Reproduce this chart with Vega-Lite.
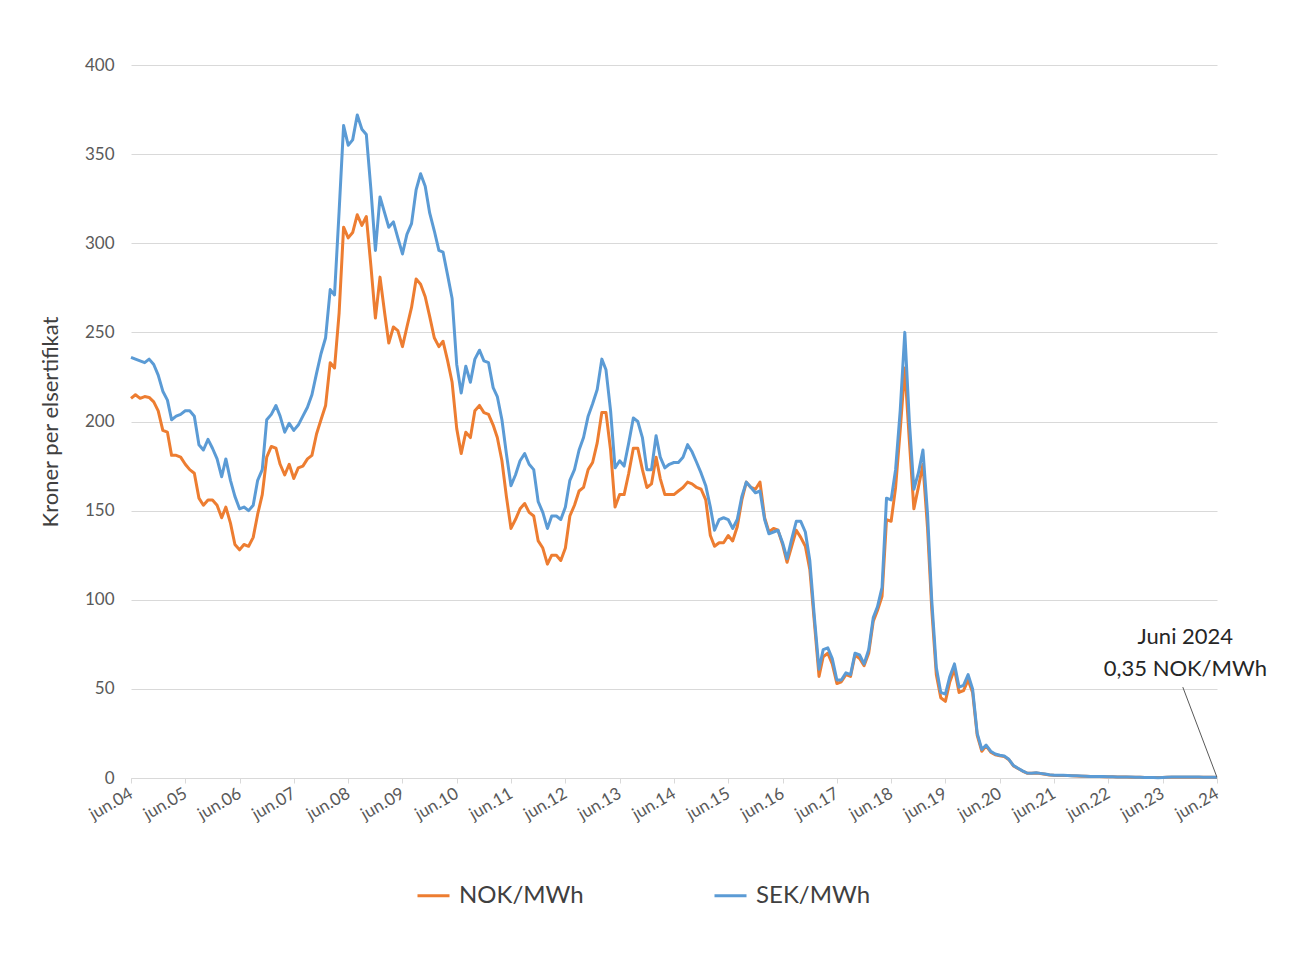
{
  "$schema": "https://vega.github.io/schema/vega-lite/v6.json",
  "width": 1086,
  "height": 713,
  "autosize": {"type": "none"},
  "padding": {"left": 131, "top": 65, "right": 92, "bottom": 180},
  "background": "white",
  "config": {
    "view": {"stroke": null},
    "font": "Lato",
    "axis": {"labelFont": "Lato", "titleFont": "Lato"},
    "legend": {"labelFont": "Lato"}
  },
  "datasets": {
    "prices": [
      {"d":"2004-06","NOK":213,"SEK":236},{"d":"2004-07","NOK":215,"SEK":235},{"d":"2004-08","NOK":213,"SEK":234},{"d":"2004-09","NOK":214,"SEK":233},{"d":"2004-10","NOK":213.5,"SEK":235},{"d":"2004-11","NOK":211,"SEK":232},{"d":"2004-12","NOK":206,"SEK":226},
      {"d":"2005-01","NOK":195,"SEK":217},{"d":"2005-02","NOK":194,"SEK":212},{"d":"2005-03","NOK":181,"SEK":201},{"d":"2005-04","NOK":181,"SEK":203},{"d":"2005-05","NOK":180,"SEK":204},{"d":"2005-06","NOK":176,"SEK":206},{"d":"2005-07","NOK":173,"SEK":206},{"d":"2005-08","NOK":171,"SEK":203},{"d":"2005-09","NOK":157,"SEK":187},{"d":"2005-10","NOK":153,"SEK":184},{"d":"2005-11","NOK":156,"SEK":190},{"d":"2005-12","NOK":156,"SEK":185},
      {"d":"2006-01","NOK":153,"SEK":179},{"d":"2006-02","NOK":146,"SEK":169},{"d":"2006-03","NOK":152,"SEK":179},{"d":"2006-04","NOK":143,"SEK":167},{"d":"2006-05","NOK":131,"SEK":158},{"d":"2006-06","NOK":128,"SEK":151},{"d":"2006-07","NOK":131,"SEK":152},{"d":"2006-08","NOK":130,"SEK":150},{"d":"2006-09","NOK":135,"SEK":153},{"d":"2006-10","NOK":148,"SEK":167},{"d":"2006-11","NOK":159,"SEK":173},{"d":"2006-12","NOK":180,"SEK":201},
      {"d":"2007-01","NOK":186,"SEK":204},{"d":"2007-02","NOK":185,"SEK":209},{"d":"2007-03","NOK":176,"SEK":203},{"d":"2007-04","NOK":170,"SEK":194},{"d":"2007-05","NOK":176,"SEK":199},{"d":"2007-06","NOK":168,"SEK":195},{"d":"2007-07","NOK":174,"SEK":198},{"d":"2007-08","NOK":175,"SEK":203},{"d":"2007-09","NOK":179,"SEK":208},{"d":"2007-10","NOK":181,"SEK":215},{"d":"2007-11","NOK":193,"SEK":227},{"d":"2007-12","NOK":201,"SEK":238},
      {"d":"2008-01","NOK":209,"SEK":247},{"d":"2008-02","NOK":233,"SEK":274},{"d":"2008-03","NOK":230,"SEK":271},{"d":"2008-04","NOK":261,"SEK":318},{"d":"2008-05","NOK":309,"SEK":366},{"d":"2008-06","NOK":303,"SEK":355},{"d":"2008-07","NOK":306,"SEK":358},{"d":"2008-08","NOK":316,"SEK":372},{"d":"2008-09","NOK":310,"SEK":364},{"d":"2008-10","NOK":315,"SEK":361},{"d":"2008-11","NOK":287,"SEK":330},{"d":"2008-12","NOK":258,"SEK":296},
      {"d":"2009-01","NOK":281,"SEK":326},{"d":"2009-02","NOK":261,"SEK":317},{"d":"2009-03","NOK":244,"SEK":309},{"d":"2009-04","NOK":253,"SEK":312},{"d":"2009-05","NOK":251,"SEK":303},{"d":"2009-06","NOK":242,"SEK":294},{"d":"2009-07","NOK":253,"SEK":305},{"d":"2009-08","NOK":264,"SEK":311},{"d":"2009-09","NOK":280,"SEK":330},{"d":"2009-10","NOK":277,"SEK":339},{"d":"2009-11","NOK":270,"SEK":332},{"d":"2009-12","NOK":259,"SEK":317},
      {"d":"2010-01","NOK":247,"SEK":307},{"d":"2010-02","NOK":242,"SEK":296},{"d":"2010-03","NOK":245,"SEK":295},{"d":"2010-04","NOK":234,"SEK":282},{"d":"2010-05","NOK":222,"SEK":269},{"d":"2010-06","NOK":196,"SEK":232},{"d":"2010-07","NOK":182,"SEK":216},{"d":"2010-08","NOK":194,"SEK":231},{"d":"2010-09","NOK":191,"SEK":222},{"d":"2010-10","NOK":206,"SEK":235},{"d":"2010-11","NOK":209,"SEK":240},{"d":"2010-12","NOK":205,"SEK":234},
      {"d":"2011-01","NOK":204,"SEK":233},{"d":"2011-02","NOK":198,"SEK":219},{"d":"2011-03","NOK":191,"SEK":214},{"d":"2011-04","NOK":178,"SEK":201},{"d":"2011-05","NOK":158,"SEK":182},{"d":"2011-06","NOK":140,"SEK":164},{"d":"2011-07","NOK":145,"SEK":170},{"d":"2011-08","NOK":151,"SEK":178},{"d":"2011-09","NOK":154,"SEK":182},{"d":"2011-10","NOK":149,"SEK":176},{"d":"2011-11","NOK":147,"SEK":173},{"d":"2011-12","NOK":133,"SEK":155},
      {"d":"2012-01","NOK":129,"SEK":149},{"d":"2012-02","NOK":120,"SEK":140},{"d":"2012-03","NOK":125,"SEK":147},{"d":"2012-04","NOK":125,"SEK":147},{"d":"2012-05","NOK":122,"SEK":145},{"d":"2012-06","NOK":129,"SEK":152},{"d":"2012-07","NOK":147,"SEK":167},{"d":"2012-08","NOK":153,"SEK":173},{"d":"2012-09","NOK":161,"SEK":184},{"d":"2012-10","NOK":163,"SEK":191},{"d":"2012-11","NOK":173,"SEK":203},{"d":"2012-12","NOK":177,"SEK":210},
      {"d":"2013-01","NOK":188,"SEK":218},{"d":"2013-02","NOK":205,"SEK":235},{"d":"2013-03","NOK":205,"SEK":229},{"d":"2013-04","NOK":184,"SEK":206},{"d":"2013-05","NOK":152,"SEK":174},{"d":"2013-06","NOK":159,"SEK":178},{"d":"2013-07","NOK":159,"SEK":175},{"d":"2013-08","NOK":171,"SEK":188},{"d":"2013-09","NOK":185,"SEK":202},{"d":"2013-10","NOK":185,"SEK":200},{"d":"2013-11","NOK":173,"SEK":191},{"d":"2013-12","NOK":163,"SEK":173},
      {"d":"2014-01","NOK":165,"SEK":173},{"d":"2014-02","NOK":180,"SEK":192},{"d":"2014-03","NOK":168,"SEK":180},{"d":"2014-04","NOK":159,"SEK":174},{"d":"2014-05","NOK":159,"SEK":176},{"d":"2014-06","NOK":159,"SEK":177},{"d":"2014-07","NOK":161,"SEK":177},{"d":"2014-08","NOK":163,"SEK":180},{"d":"2014-09","NOK":166,"SEK":187},{"d":"2014-10","NOK":165,"SEK":183},{"d":"2014-11","NOK":163,"SEK":177},{"d":"2014-12","NOK":162,"SEK":171},
      {"d":"2015-01","NOK":156,"SEK":164},{"d":"2015-02","NOK":136,"SEK":152},{"d":"2015-03","NOK":130,"SEK":139},{"d":"2015-04","NOK":132,"SEK":145},{"d":"2015-05","NOK":132,"SEK":146},{"d":"2015-06","NOK":136,"SEK":145},{"d":"2015-07","NOK":133,"SEK":140},{"d":"2015-08","NOK":141,"SEK":145},{"d":"2015-09","NOK":156,"SEK":158},{"d":"2015-10","NOK":166,"SEK":166},{"d":"2015-11","NOK":163,"SEK":163},{"d":"2015-12","NOK":162,"SEK":160},
      {"d":"2016-01","NOK":166,"SEK":161},{"d":"2016-02","NOK":146,"SEK":145},{"d":"2016-03","NOK":138,"SEK":137},{"d":"2016-04","NOK":140,"SEK":138},{"d":"2016-05","NOK":139,"SEK":139},{"d":"2016-06","NOK":131,"SEK":132},{"d":"2016-07","NOK":121,"SEK":123},{"d":"2016-08","NOK":130,"SEK":134},{"d":"2016-09","NOK":139,"SEK":144},{"d":"2016-10","NOK":135,"SEK":144},{"d":"2016-11","NOK":130,"SEK":138},{"d":"2016-12","NOK":117,"SEK":122},
      {"d":"2017-01","NOK":87,"SEK":90},{"d":"2017-02","NOK":57,"SEK":61},{"d":"2017-03","NOK":68,"SEK":72},{"d":"2017-04","NOK":70,"SEK":73},{"d":"2017-05","NOK":64,"SEK":67},{"d":"2017-06","NOK":53,"SEK":55},{"d":"2017-07","NOK":54,"SEK":55},{"d":"2017-08","NOK":58,"SEK":59},{"d":"2017-09","NOK":57,"SEK":58},{"d":"2017-10","NOK":69,"SEK":70},{"d":"2017-11","NOK":67,"SEK":69},{"d":"2017-12","NOK":63,"SEK":64},
      {"d":"2018-01","NOK":70,"SEK":72},{"d":"2018-02","NOK":88,"SEK":90},{"d":"2018-03","NOK":94,"SEK":96},{"d":"2018-04","NOK":102,"SEK":107},{"d":"2018-05","NOK":145,"SEK":157},{"d":"2018-06","NOK":144,"SEK":156},{"d":"2018-07","NOK":163,"SEK":173},{"d":"2018-08","NOK":195,"SEK":206},{"d":"2018-09","NOK":230,"SEK":250},{"d":"2018-10","NOK":190,"SEK":201},{"d":"2018-11","NOK":151,"SEK":162},{"d":"2018-12","NOK":163,"SEK":171},
      {"d":"2019-01","NOK":176,"SEK":184},{"d":"2019-02","NOK":140,"SEK":148},{"d":"2019-03","NOK":95,"SEK":100},{"d":"2019-04","NOK":58,"SEK":62},{"d":"2019-05","NOK":45,"SEK":48},{"d":"2019-06","NOK":43,"SEK":47},{"d":"2019-07","NOK":54,"SEK":57},{"d":"2019-08","NOK":61,"SEK":64},{"d":"2019-09","NOK":48,"SEK":51},{"d":"2019-10","NOK":49,"SEK":52},{"d":"2019-11","NOK":55,"SEK":58},{"d":"2019-12","NOK":48,"SEK":50},
      {"d":"2020-01","NOK":24,"SEK":25},{"d":"2020-02","NOK":15,"SEK":16},{"d":"2020-03","NOK":18,"SEK":18.5},{"d":"2020-04","NOK":14.5,"SEK":15},{"d":"2020-05","NOK":13,"SEK":13.5},{"d":"2020-06","NOK":12.5,"SEK":12.8},{"d":"2020-07","NOK":12,"SEK":12.3},{"d":"2020-08","NOK":10.3,"SEK":10.5},{"d":"2020-09","NOK":6.8,"SEK":7},{"d":"2020-10","NOK":5.3,"SEK":5.5},{"d":"2020-11","NOK":3.9,"SEK":4},{"d":"2020-12","NOK":2.7,"SEK":2.8},
      {"d":"2021-01","NOK":2.6,"SEK":2.7},{"d":"2021-02","NOK":2.8,"SEK":2.9},{"d":"2021-03","NOK":2.5,"SEK":2.6},{"d":"2021-04","NOK":2.1,"SEK":2.2},{"d":"2021-05","NOK":1.7,"SEK":1.8},{"d":"2021-06","NOK":1.5,"SEK":1.6},{"d":"2021-07","NOK":1.45,"SEK":1.5},{"d":"2021-08","NOK":1.45,"SEK":1.5},{"d":"2021-09","NOK":1.35,"SEK":1.4},{"d":"2021-10","NOK":1.25,"SEK":1.3},{"d":"2021-11","NOK":1.15,"SEK":1.2},{"d":"2021-12","NOK":1.05,"SEK":1.1},
      {"d":"2022-01","NOK":0.95,"SEK":1.0},{"d":"2022-02","NOK":0.9,"SEK":0.9},{"d":"2022-03","NOK":0.85,"SEK":0.9},{"d":"2022-04","NOK":0.8,"SEK":0.8},{"d":"2022-05","NOK":0.75,"SEK":0.8},{"d":"2022-06","NOK":0.7,"SEK":0.7},{"d":"2022-07","NOK":0.65,"SEK":0.7},{"d":"2022-08","NOK":0.6,"SEK":0.6},{"d":"2022-09","NOK":0.55,"SEK":0.6},{"d":"2022-10","NOK":0.5,"SEK":0.5},{"d":"2022-11","NOK":0.45,"SEK":0.5},{"d":"2022-12","NOK":0.4,"SEK":0.4},
      {"d":"2023-01","NOK":0.4,"SEK":0.4},{"d":"2023-02","NOK":0.35,"SEK":0.3},{"d":"2023-03","NOK":0.3,"SEK":0.3},{"d":"2023-04","NOK":0.28,"SEK":0.25},{"d":"2023-05","NOK":0.25,"SEK":0.2},{"d":"2023-06","NOK":0.3,"SEK":0.3},{"d":"2023-07","NOK":0.4,"SEK":0.4},{"d":"2023-08","NOK":0.45,"SEK":0.5},{"d":"2023-09","NOK":0.45,"SEK":0.5},{"d":"2023-10","NOK":0.45,"SEK":0.5},{"d":"2023-11","NOK":0.45,"SEK":0.5},{"d":"2023-12","NOK":0.45,"SEK":0.5},
      {"d":"2024-01","NOK":0.45,"SEK":0.5},{"d":"2024-02","NOK":0.45,"SEK":0.5},{"d":"2024-03","NOK":0.4,"SEK":0.45},{"d":"2024-04","NOK":0.38,"SEK":0.4},{"d":"2024-05","NOK":0.36,"SEK":0.4},{"d":"2024-06","NOK":0.35,"SEK":0.36}
    ],
    "notes": [
      {"d":"2023-11","v":79,"t":"Juni 2024"},
      {"d":"2023-11","v":61,"t":"0,35 NOK/MWh"}
    ],
    "pointer": [
      {"d":"2023-10-15","v":51,"d2":"2024-06","v2":0.35}
    ]
  },
  "layer": [
    {
      "data": {"name": "prices"},
      "transform": [{"fold": ["NOK", "SEK"], "as": ["serie", "kr"]}],
      "mark": {"type": "line", "strokeWidth": 3, "strokeJoin": "round"},
      "encoding": {
        "x": {
          "field": "d", "type": "temporal",
          "scale": {"type": "utc", "domain": [{"year":2004,"month":6,"date":1,"utc":true},{"year":2024,"month":6,"date":1,"utc":true}]},
          "axis": {
            "title": null,
            "values": [
              {"year":2004,"month":6,"date":1,"utc":true},{"year":2005,"month":6,"date":1,"utc":true},{"year":2006,"month":6,"date":1,"utc":true},{"year":2007,"month":6,"date":1,"utc":true},{"year":2008,"month":6,"date":1,"utc":true},{"year":2009,"month":6,"date":1,"utc":true},{"year":2010,"month":6,"date":1,"utc":true},{"year":2011,"month":6,"date":1,"utc":true},{"year":2012,"month":6,"date":1,"utc":true},{"year":2013,"month":6,"date":1,"utc":true},{"year":2014,"month":6,"date":1,"utc":true},{"year":2015,"month":6,"date":1,"utc":true},{"year":2016,"month":6,"date":1,"utc":true},{"year":2017,"month":6,"date":1,"utc":true},{"year":2018,"month":6,"date":1,"utc":true},{"year":2019,"month":6,"date":1,"utc":true},{"year":2020,"month":6,"date":1,"utc":true},{"year":2021,"month":6,"date":1,"utc":true},{"year":2022,"month":6,"date":1,"utc":true},{"year":2023,"month":6,"date":1,"utc":true},{"year":2024,"month":6,"date":1,"utc":true}
            ],
            "labelExpr": "'jun.' + utcFormat(datum.value, '%y')",
            "labelAngle": -30,
            "labelAlign": "right",
            "labelBaseline": "middle",
            "labelFontSize": 17,
            "labelColor": "#595959",
            "labelPadding": 9,
            "labelOverlap": false,
            "labelFlush": false,
            "grid": false,
            "domainColor": "#d9d9d9",
            "domainWidth": 1,
            "tickColor": "#d9d9d9",
            "tickSize": 5
          }
        },
        "y": {
          "field": "kr", "type": "quantitative",
          "scale": {"domain": [0, 400], "nice": false},
          "axis": {
            "title": "Kroner per elsertifikat",
            "titleFontSize": 22,
            "titleFontWeight": "normal",
            "titleColor": "#404040",
            "titlePadding": 22,
            "values": [0, 50, 100, 150, 200, 250, 300, 350, 400],
            "labelFontSize": 17,
            "labelColor": "#595959",
            "labelPadding": 17,
            "ticks": false,
            "domain": false,
            "grid": true,
            "gridColor": "#d9d9d9",
            "gridWidth": 1
          }
        },
        "color": {
          "field": "serie", "type": "nominal",
          "scale": {"domain": ["NOK", "SEK"], "range": ["#ED7D31", "#5B9BD5"]},
          "legend": {
            "title": null,
            "orient": "none",
            "legendX": 285,
            "legendY": 813,
            "direction": "horizontal",
            "symbolType": "stroke",
            "symbolSize": 1024,
            "symbolStrokeWidth": 3,
            "labelFontSize": 24,
            "labelColor": "#404040",
            "labelOffset": 8,
            "columnPadding": 124,
            "labelExpr": "datum.label + '/MWh'"
          }
        }
      }
    },
    {
      "data": {"name": "pointer"},
      "mark": {"type": "rule", "color": "#595959", "strokeWidth": 1},
      "encoding": {
        "x": {"field": "d", "type": "temporal"},
        "y": {"field": "v", "type": "quantitative"},
        "x2": {"field": "d2"},
        "y2": {"field": "v2"}
      }
    },
    {
      "data": {"name": "notes"},
      "mark": {"type": "text", "fontSize": 22, "color": "#262626", "align": "center", "baseline": "middle"},
      "encoding": {
        "x": {"field": "d", "type": "temporal"},
        "y": {"field": "v", "type": "quantitative"},
        "text": {"field": "t"}
      }
    }
  ]
}
